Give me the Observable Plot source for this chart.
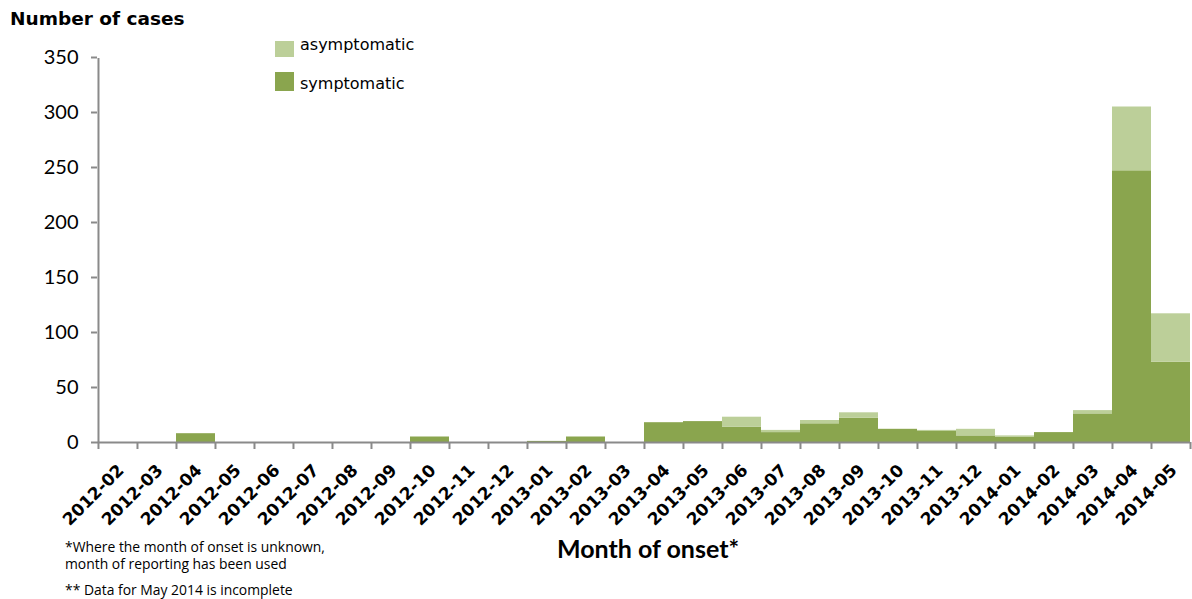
<!DOCTYPE html>
<html>
<head>
<meta charset="utf-8">
<script src="https://cdn.jsdelivr.net/npm/d3@7"></script>
<script src="https://cdn.jsdelivr.net/npm/@observablehq/plot@0.6"></script>
<style>
  html, body { margin: 0; padding: 0; background: #fff; }
  #wrap { position: relative; width: 1192px; height: 599px; overflow: hidden; background: #fff; }
  #wrap svg { position: absolute; left: 0; top: 0; }
  .ov { position: absolute; white-space: nowrap; color: #000; }
  .ytitle { left: 10px; top: 8px; font-family: "DejaVu Sans", Verdana, sans-serif; font-weight: bold; font-size: 18.5px; }
  .leg { font-family: "DejaVu Sans", Verdana, sans-serif; font-size: 16px; }
  .sw { position: absolute; width: 19px; }
  .xtitle { left: 648px; top: 533px; transform: translateX(-50%); font-family: Lato, "Open Sans", sans-serif; font-weight: bold; font-size: 25px; }
  .note { font-family: "Open Sans", Lato, sans-serif; font-size: 13.9px; left: 65px; }
</style>
</head>
<body>
<div id="wrap"></div>
<script>
// ---- data ----
const months = ["2012-02","2012-03","2012-04","2012-05","2012-06","2012-07","2012-08","2012-09","2012-10","2012-11","2012-12",
  "2013-01","2013-02","2013-03","2013-04","2013-05","2013-06","2013-07","2013-08","2013-09","2013-10","2013-11","2013-12",
  "2014-01","2014-02","2014-03","2014-04","2014-05"];
const symptomatic  = [0,0,8,0,0,0,0,0,5,0,0,1,5,0,18,19,14,9,17,22,12,10,6,5,9,26,247,73];
const asymptomatic = [0,0,0,0,0,0,0,0,0,0,0,0,0,0,0,0,9,2,3,5,0,1,6,1,0,3,58,44];
const yTicks = [0,50,100,150,200,250,300,350];
const seriesNames = ["symptomatic","asymptomatic"];
const seriesColors = ["#8aa54e","#bccf99"];

const rows = [];
months.forEach((m,i)=>rows.push({month:m, status:"symptomatic", count:symptomatic[i]}));
months.forEach((m,i)=>rows.push({month:m, status:"asymptomatic", count:asymptomatic[i]}));

const W = 1192, H = 599, ML = 97, MR = 2, MT = 57, MB = 157;
const bw = (W - ML - MR) / months.length;
const axisColor = "#8a8a8a";

const chart = Plot.plot({
  width: W, height: H,
  marginLeft: ML, marginRight: MR, marginTop: MT, marginBottom: MB,
  style: {background: "transparent", overflow: "visible"},
  x: {type: "band", domain: months, padding: 0, label: null},
  y: {domain: [0, 350], label: null},
  color: {domain: seriesNames, range: seriesColors},
  marks: [
    Plot.barY(rows, {x: "month", y: "count", fill: "status", order: seriesNames}),
    // x axis baseline
    Plot.ruleY([0], {stroke: axisColor, strokeWidth: 2}),
    // y axis line
    Plot.ruleX([months[0]], {y1: 0, y2: 350, dx: -bw/2, stroke: axisColor, strokeWidth: 2, insetBottom: -1}),
    // x tick marks at band boundaries
    Plot.ruleX(months, {y1: 0, y2: 0, dx: -bw/2, insetBottom: -7, stroke: axisColor, strokeWidth: 2}),
    Plot.ruleX([months[months.length-1]], {y1: 0, y2: 0, dx: bw/2, insetBottom: -7, stroke: axisColor, strokeWidth: 2}),
    Plot.axisY({ticks: yTicks, tickSize: 6, tickPadding: 13, stroke: axisColor, strokeWidth: 2,
      fontSize: 20, fontFamily: "Lato, 'Open Sans', sans-serif", fill: "#000", label: null}),
    Plot.axisX({tickSize: 0, tickRotate: -45, tickPadding: 25, dx: 3, fontSize: 17, fontWeight: "bold",
      fontFamily: "'DejaVu Sans', Verdana, sans-serif", fill: "#000", label: null})
  ]
});

const wrap = document.getElementById("wrap");
wrap.appendChild(chart);

function addDiv(cls, text, style) {
  const d = document.createElement("div");
  d.className = "ov " + cls;
  d.textContent = text;
  Object.assign(d.style, style || {});
  wrap.appendChild(d);
  return d;
}
addDiv("ytitle", "Number of cases");
// legend (order as in reference: asymptomatic on top)
[["asymptomatic", seriesColors[1], 41, 16, 35], ["symptomatic", seriesColors[0], 72, 19, 74]].forEach(([name, col, top, h, ttop]) => {
  const s = document.createElement("div");
  s.className = "sw";
  Object.assign(s.style, {left: "275px", top: top + "px", height: h + "px", background: col});
  wrap.appendChild(s);
  addDiv("leg", name, {left: "300px", top: ttop + "px"});
});
addDiv("xtitle", "Month of onset*");
addDiv("note", "*Where the month of onset is unknown,", {top: "537px"});
addDiv("note", "month of reporting has been used", {top: "554px"});
addDiv("note", "** Data for May 2014 is incomplete", {top: "580px"});
</script>
</body>
</html>
